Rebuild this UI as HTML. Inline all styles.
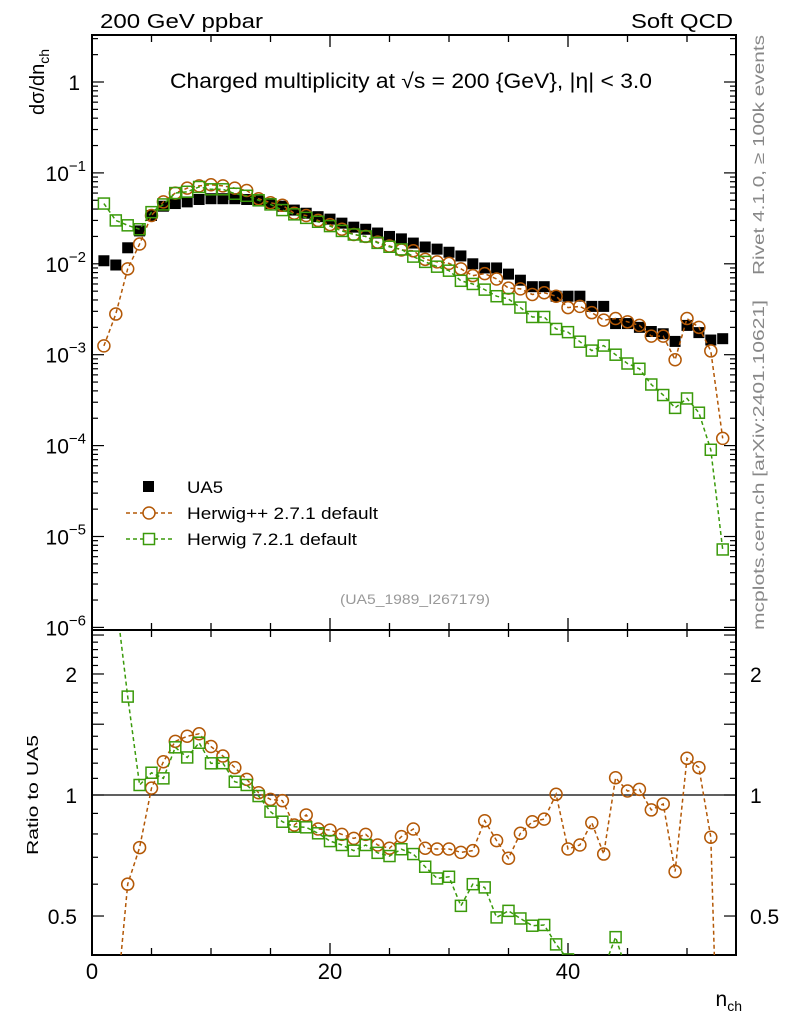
<!DOCTYPE html>
<html><head><meta charset="utf-8"><style>
html,body{margin:0;padding:0;background:#fff;overflow:hidden;width:786px;height:1024px}
svg{display:block;font-family:"Liberation Sans",sans-serif}
</style></head><body>
<svg id="chart" width="786" height="1024" viewBox="0 0 786 1024">
<defs>
<clipPath id="clipMain"><rect x="92" y="35" width="644" height="595"/></clipPath>
<clipPath id="clipRatio"><rect x="92" y="630" width="644" height="325"/></clipPath>
</defs>
<g id="axes"></g>
<g id="mainMarks" clip-path="url(#clipMain)"></g>
<g id="ratioMarks" clip-path="url(#clipRatio)"></g>
<text x="100" y="28" font-size="20" textLength="163" lengthAdjust="spacingAndGlyphs">200 GeV ppbar</text>
<text x="631" y="28" font-size="20" textLength="102" lengthAdjust="spacingAndGlyphs">Soft QCD</text>
<text x="170" y="88" font-size="21" textLength="482" lengthAdjust="spacingAndGlyphs">Charged multiplicity at √s = 200 {GeV}, |η| &lt; 3.0</text>
<text transform="translate(44,115) rotate(-90)" font-size="20">dσ/dn<tspan font-size="14" dy="5">ch</tspan></text>
<text transform="translate(38,795) rotate(-90)" font-size="16" text-anchor="middle" textLength="120" lengthAdjust="spacingAndGlyphs">Ratio to UA5</text>
<text x="742" y="1006" font-size="21" text-anchor="end">n<tspan font-size="14" dy="5">ch</tspan></text>
<text transform="translate(764,275) rotate(-90)" font-size="16" fill="#888" textLength="240" lengthAdjust="spacingAndGlyphs">Rivet 4.1.0, ≥ 100k events</text>
<text transform="translate(764,630) rotate(-90)" font-size="16" fill="#888" textLength="330" lengthAdjust="spacingAndGlyphs">mcplots.cern.ch [arXiv:2401.10621]</text>
<text x="340" y="604" font-size="14" fill="#999" textLength="150" lengthAdjust="spacingAndGlyphs">(UA5_1989_I267179)</text>
<g>
<rect x="143" y="481" width="11" height="11" fill="#000"/>
<text x="187" y="493" font-size="17" textLength="36" lengthAdjust="spacingAndGlyphs">UA5</text>
<line x1="126" y1="513" x2="172" y2="513" stroke="#b35806" stroke-width="1.4" stroke-dasharray="4,3"/>
<circle cx="149" cy="513" r="6" fill="#fff" stroke="#b35806" stroke-width="1.5"/>
<text x="187" y="519" font-size="17" textLength="191" lengthAdjust="spacingAndGlyphs">Herwig++ 2.7.1 default</text>
<line x1="126" y1="539" x2="172" y2="539" stroke="#3a9a0a" stroke-width="1.4" stroke-dasharray="4,3"/>
<rect x="143.5" y="533.5" width="11" height="11" fill="#fff" stroke="#3a9a0a" stroke-width="1.5"/>
<text x="187" y="545" font-size="17" textLength="170" lengthAdjust="spacingAndGlyphs">Herwig 7.2.1 default</text>
</g>
</svg>
<script>
const nch = [1,2,3,4,5,6,7,8,9,10,11,12,13,14,15,16,17,18,19,20,21,22,23,24,25,26,27,28,29,30,31,32,33,34,35,36,37,38,39,40,41,42,43,44,45,46,47,48,49,50,51,52,53];
const ua5 = [0.0108,0.0097,0.0150,0.023,0.034,0.043,0.046,0.048,0.051,0.052,0.052,0.052,0.051,0.049,0.046,0.043,0.039,0.036,0.033,0.031,0.028,0.0253,0.024,0.0218,0.020,0.0188,0.0169,0.0153,0.0145,0.0134,0.0122,0.0100,0.0090,0.0090,0.0077,0.0066,0.0056,0.0056,0.0044,0.0044,0.0044,0.0034,0.0034,0.0022,0.0022,0.0020,0.0018,0.0017,0.0014,0.0021,0.00175,0.00145,0.0015];
const herwigpp = [0.00125,0.0028,0.0088,0.0165,0.034,0.048,0.060,0.068,0.072,0.074,0.072,0.068,0.064,0.052,0.047,0.044,0.036,0.034,0.030,0.027,0.024,0.021,0.020,0.0173,0.0157,0.0142,0.0139,0.0112,0.0105,0.0101,0.0088,0.0074,0.0078,0.0068,0.0054,0.0053,0.0046,0.0048,0.0044,0.0033,0.0034,0.0029,0.0024,0.0025,0.0023,0.0021,0.0016,0.0016,0.00088,0.0025,0.0020,0.0011,0.00012];
const herwig7 = [0.046,0.030,0.0265,0.0240,0.0370,0.045,0.060,0.062,0.070,0.066,0.066,0.059,0.056,0.050,0.045,0.039,0.035,0.032,0.029,0.026,0.023,0.021,0.020,0.017,0.0154,0.0144,0.0120,0.0105,0.0093,0.0084,0.0065,0.0060,0.0052,0.0044,0.0041,0.0033,0.0026,0.0026,0.00192,0.00177,0.00139,0.00111,0.00126,0.00100,0.00080,0.00070,0.00047,0.00036,0.00026,0.00033,0.00023,0.00009,0.0000072];
const ratioPP = [0.12,0.29,0.60,0.74,1.04,1.21,1.36,1.40,1.42,1.32,1.25,1.17,1.094,1.013,0.975,0.968,0.842,0.892,0.823,0.818,0.798,0.78,0.798,0.751,0.737,0.788,0.823,0.737,0.734,0.734,0.72,0.727,0.863,0.77,0.696,0.803,0.858,0.871,1.004,0.734,0.751,0.853,0.713,1.104,1.023,1.033,0.918,0.95,0.645,1.234,1.17,0.785,0.08];
const ratioH7 = [4.4,3.1,1.757,1.059,1.136,1.10,1.314,1.24,1.349,1.199,1.2,1.079,1.059,0.994,0.909,0.858,0.834,0.831,0.803,0.768,0.751,0.727,0.751,0.718,0.705,0.733,0.713,0.663,0.62,0.626,0.53,0.60,0.589,0.496,0.515,0.493,0.473,0.475,0.425,0.39,0.32,0.33,0.37,0.443,0.36,0.35,0.26,0.21,0.19,0.15,0.13,0.06,0.005];
const xTicks = [0,20,40];
const mainYTickExp = [0,-1,-2,-3,-4,-5,-6];
const ratioYLabels = [0.5,1,2];

const NS="http://www.w3.org/2000/svg";
const L=92,R=736,MT=35,MB=630,RT=630,RB=955;
const xMin=0,xMax=(R-L)/11.9;
const X=v=>L+(v-xMin)/(xMax-xMin)*(R-L);
const Y=v=>82-90.9*Math.log10(v);
const YR=v=>795-402*Math.log10(v);
function mk(tag,attrs,parent){const e=document.createElementNS(NS,tag);for(const k in attrs)e.setAttribute(k,attrs[k]);parent.appendChild(e);return e;}
const ax=document.getElementById('axes');
const mm=document.getElementById('mainMarks');
const rm=document.getElementById('ratioMarks');

let f1=mk('rect',{x:L,y:MT,width:R-L,height:MB-MT,fill:'none',stroke:'#000','stroke-width':2},ax);


let f2=mk('rect',{x:L,y:RT,width:R-L,height:RB-RT,fill:'none',stroke:'#000','stroke-width':2},ax);



for(let v=0;v<=xMax;v+=5){
  const x=X(v), big=(v%20===0), len=big?12:7;
  [[MT,1],[MB,-1],[RT,1],[RB,-1]].forEach(([y,d])=>{mk('line',{x1:x,x2:x,y1:y,y2:y+d*len,stroke:'#000','stroke-width':1.3},ax);});
}
xTicks.forEach(v=>{
  const t=mk('text',{x:X(v),y:979,'font-size':22,'text-anchor':'middle'},ax);
  t.textContent=v;
  
  
});
for(let e=-7;e<=1;e++){
  for(let m=1;m<10;m++){
    const v=m*Math.pow(10,e), y=Y(v);
    if(y<MT||y>MB)continue;
    const len=m===1?12:6;
    mk('line',{x1:L,x2:L+len,y1:y,y2:y,stroke:'#000','stroke-width':1.2},ax);
    mk('line',{x1:R,x2:R-len,y1:y,y2:y,stroke:'#000','stroke-width':1.2},ax);
  }
}
mainYTickExp.forEach(e=>{
  const t=mk('text',{x:e===0?80:86,y:Y(Math.pow(10,e))+8,'font-size':21,'text-anchor':'end'},ax);
  if(e===0){t.textContent='1';}
  else{t.textContent='10';const s=mk('tspan',{dy:-10,'font-size':15},t);s.textContent=String(e).replace('-','−');}
  
  
});
for(let k=4;k<=25;k++){
  const v=k/10, y=YR(v);
  if(y<RT||y>RB)continue;
  const big=(k%5===0), len=big?12:6;
  mk('line',{x1:L,x2:L+len,y1:y,y2:y,stroke:'#000','stroke-width':1.2},ax);
  mk('line',{x1:R,x2:R-len,y1:y,y2:y,stroke:'#000','stroke-width':1.2},ax);
}
ratioYLabels.forEach(v=>{
  const y=YR(v)+8;
  const t1=mk('text',{x:77,y:y,'font-size':21,'text-anchor':'end'},ax);t1.textContent=v;
  
  
  const t2=mk('text',{x:750,y:y,'font-size':21,'text-anchor':'start'},ax);t2.textContent=v;
  
  
});
let ref=mk('line',{x1:L,x2:R,y1:YR(1),y2:YR(1),stroke:'#000','stroke-width':1.3},ax);



function series(vals,yf,color,shape,parent,name){
  const pts=vals.map((v,i)=>[X(nch[i]),yf(Math.max(v,1e-9))]);
  const pl=mk('polyline',{points:pts.map(p=>p.join(',')).join(' '),fill:'none',stroke:color,'stroke-width':1.5,'stroke-dasharray':'4,3'},parent);
  
  
  pts.forEach(p=>{
    let m;
    if(shape==='circle') m=mk('circle',{cx:p[0],cy:p[1],r:6,fill:'none',stroke:color,'stroke-width':1.5},parent);
    else m=mk('rect',{x:p[0]-5.5,y:p[1]-5.5,width:11,height:11,fill:'none',stroke:color,'stroke-width':1.5},parent);
    
    
  });
}
ua5.forEach((v,i)=>{
  const r=mk('rect',{x:X(nch[i])-5.5,y:Y(v)-5.5,width:11,height:11,fill:'#000'},mm);
  
  
});
series(herwigpp,Y,'#b35806','circle',mm,'herwigpp');
series(herwig7,Y,'#3a9a0a','square',mm,'herwig7');
series(ratioPP,YR,'#b35806','circle',rm,'herwigpp-ratio');
series(ratioH7,YR,'#3a9a0a','square',rm,'herwig7-ratio');
</script>
</body></html>
